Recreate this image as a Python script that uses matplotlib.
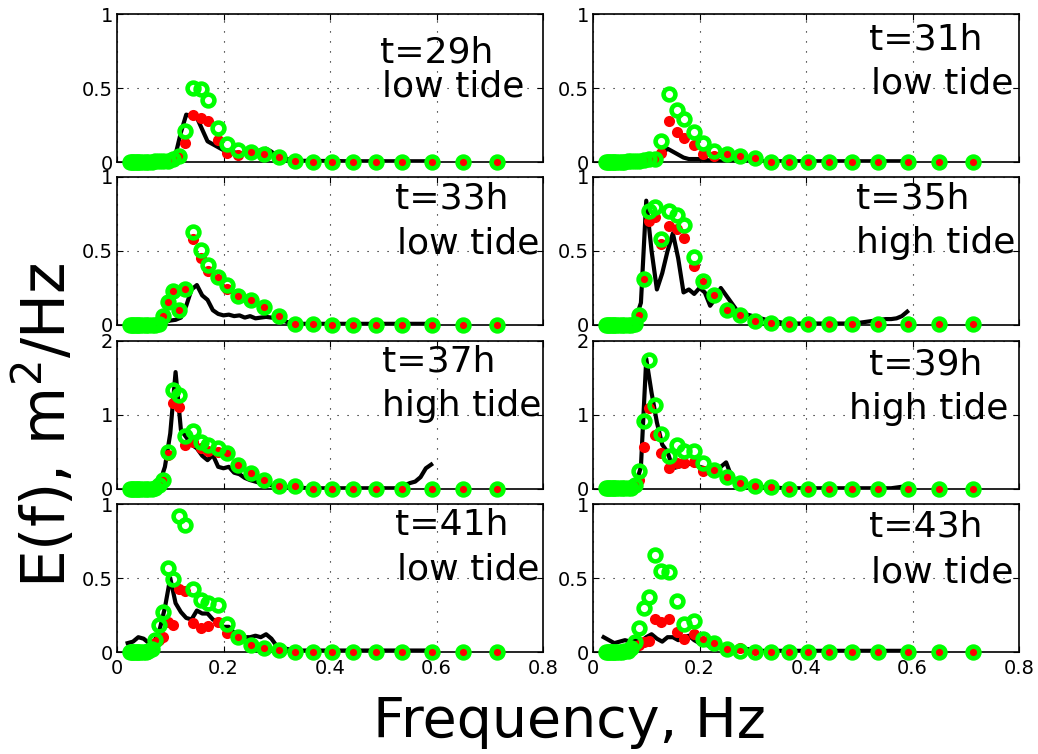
import numpy as np
import matplotlib
matplotlib.use("Agg")
import matplotlib.pyplot as plt

# measured spectra (black line), frequency in Hz
f_obs = [0.02, 0.03, 0.04, 0.05, 0.06, 0.07, 0.08, 0.09, 0.10, 0.11,
         0.12, 0.13, 0.14, 0.15, 0.16, 0.17, 0.18, 0.19, 0.20, 0.21,
         0.22, 0.23, 0.24, 0.25, 0.26, 0.27, 0.28, 0.29, 0.30, 0.31,
         0.32, 0.33, 0.34, 0.35, 0.36, 0.37, 0.38, 0.39, 0.40, 0.41,
         0.42, 0.43, 0.44, 0.45, 0.46, 0.47, 0.48, 0.49, 0.50, 0.51,
         0.52, 0.53, 0.54, 0.55, 0.56, 0.57, 0.58, 0.59]

# model frequencies (red dots / green rings)
f_mod = [0.025, 0.0275, 0.030, 0.033, 0.037, 0.040, 0.044, 0.049, 0.054, 0.059,
         0.065, 0.071, 0.078, 0.087, 0.095, 0.105, 0.116, 0.128, 0.142, 0.157,
         0.171, 0.189, 0.207, 0.228, 0.251, 0.276, 0.304, 0.334, 0.368, 0.404,
         0.444, 0.486, 0.536, 0.591, 0.650, 0.714]

times = ["t=29h", "t=31h", "t=33h", "t=35h", "t=37h", "t=39h", "t=41h", "t=43h"]
tides = ["low tide", "low tide", "low tide", "high tide",
         "high tide", "high tide", "low tide", "low tide"]
ymax = [1, 1, 1, 1, 2, 2, 1, 1]

obs_29 = [0.01, 0.01, 0.01, 0.01, 0.01, 0.01, 0.01, 0.01, 0.015, 0.05,
          0.2, 0.32, 0.31, 0.3, 0.22, 0.14, 0.12, 0.1, 0.08, 0.07,
          0.065, 0.06, 0.06, 0.065, 0.07, 0.08, 0.09, 0.07, 0.04, 0.03,
          0.02, 0.015, 0.01, 0.008, 0.008, 0.008, 0.007, 0.007, 0.006, 0.006,
          0.006, 0.005, 0.005, 0.005, 0.005, 0.005, 0.005, 0.005, 0.005, 0.005,
          0.005, 0.005, 0.005, 0.005, 0.005, 0.005, 0.005, 0.005]
obs_31 = [0.01, 0.01, 0.01, 0.01, 0.01, 0.01, 0.01, 0.01, 0.01, 0.01,
          0.03, 0.06, 0.09, 0.07, 0.05, 0.03, 0.02, 0.02, 0.02, 0.015,
          0.01, 0.005, 0.005, 0.005, 0.005, 0.005, 0.005, 0.005, 0.005, 0.005,
          0.005, 0.005, 0.005, 0.005, 0.005, 0.005, 0.005, 0.005, 0.005, 0.005,
          0.005, 0.005, 0.005, 0.005, 0.005, 0.005, 0.005, 0.005, 0.005, 0.005,
          0.005, 0.005, 0.005, 0.005, 0.005, 0.005, 0.005, 0.005]
obs_33 = [0.01, 0.01, 0.01, 0.01, 0.01, 0.01, 0.01, 0.02, 0.03, 0.035,
          0.05, 0.13, 0.24, 0.27, 0.2, 0.17, 0.1, 0.075, 0.065, 0.07,
          0.06, 0.065, 0.05, 0.06, 0.045, 0.05, 0.055, 0.05, 0.05, 0.03,
          0.02, 0.015, 0.01, 0.008, 0.008, 0.008, 0.008, 0.008, 0.008, 0.008,
          0.008, 0.008, 0.008, 0.008, 0.008, 0.008, 0.008, 0.008, 0.008, 0.008,
          0.008, 0.008, 0.008, 0.008, 0.008, 0.008, 0.008, 0.008]
obs_35 = [0.02, 0.02, 0.02, 0.02, 0.02, 0.02, 0.04, 0.15, 0.84, 0.5,
          0.24, 0.35, 0.5, 0.62, 0.45, 0.22, 0.24, 0.21, 0.25, 0.22,
          0.13, 0.18, 0.25, 0.2, 0.15, 0.1, 0.08, 0.07, 0.06, 0.05,
          0.04, 0.03, 0.025, 0.02, 0.01, 0.01, 0.01, 0.01, 0.01, 0.01,
          0.01, 0.01, 0.01, 0.01, 0.01, 0.01, 0.01, 0.01, 0.015, 0.02,
          0.025, 0.03, 0.035, 0.04, 0.04, 0.045, 0.06, 0.09]
obs_37 = [0.02, 0.02, 0.02, 0.02, 0.02, 0.02, 0.08, 0.3, 0.75, 1.58,
          0.8, 0.7, 0.6, 0.55, 0.45, 0.39, 0.46, 0.3, 0.28, 0.3,
          0.22, 0.2, 0.15, 0.12, 0.1, 0.08, 0.06, 0.05, 0.04, 0.03,
          0.025, 0.02, 0.02, 0.015, 0.01, 0.01, 0.01, 0.01, 0.01, 0.01,
          0.01, 0.01, 0.01, 0.01, 0.01, 0.01, 0.01, 0.01, 0.01, 0.01,
          0.01, 0.01, 0.05, 0.08, 0.1, 0.16, 0.28, 0.33]
obs_39 = [0.03, 0.03, 0.03, 0.03, 0.03, 0.03, 0.05, 0.3, 1.76, 1.3,
          0.9, 0.6, 0.5, 0.28, 0.3, 0.32, 0.34, 0.34, 0.3, 0.28,
          0.25, 0.22, 0.3, 0.36, 0.17, 0.1, 0.08, 0.06, 0.04, 0.03,
          0.025, 0.02, 0.02, 0.015, 0.01, 0.01, 0.01, 0.01, 0.01, 0.01,
          0.01, 0.01, 0.01, 0.01, 0.01, 0.01, 0.01, 0.01, 0.01, 0.01,
          0.01, 0.01, 0.01, 0.01, 0.01, 0.02, 0.03, 0.035]
obs_41 = [0.06, 0.07, 0.1, 0.09, 0.06, 0.07, 0.15, 0.3, 0.5, 0.33,
          0.27, 0.23, 0.22, 0.28, 0.26, 0.26, 0.22, 0.2, 0.17, 0.17,
          0.13, 0.1, 0.1, 0.1, 0.11, 0.1, 0.12, 0.09, 0.04, 0.03,
          0.02, 0.015, 0.01, 0.01, 0.01, 0.01, 0.01, 0.01, 0.01, 0.01,
          0.01, 0.01, 0.01, 0.01, 0.01, 0.01, 0.01, 0.01, 0.01, 0.01,
          0.01, 0.01, 0.01, 0.01, 0.01, 0.01, 0.01, 0.01]
obs_43 = [0.1, 0.08, 0.06, 0.07, 0.08, 0.07, 0.08, 0.07, 0.1, 0.12,
          0.09, 0.07, 0.1, 0.1, 0.08, 0.1, 0.11, 0.08, 0.06, 0.05,
          0.04, 0.04, 0.03, 0.03, 0.025, 0.02, 0.02, 0.02, 0.015, 0.008,
          0.008, 0.008, 0.008, 0.008, 0.008, 0.008, 0.008, 0.008, 0.008, 0.008,
          0.008, 0.008, 0.008, 0.008, 0.008, 0.008, 0.008, 0.008, 0.008, 0.008,
          0.008, 0.008, 0.008, 0.008, 0.008, 0.008, 0.008, 0.008]

# model 1 (red filled dots)
red_29 = [0, 0, 0, 0, 0, 0, 0, 0, 0, 0, 0, 0, 0, 0, 0.005, 0.01, 0.04, 0.13,
          0.32, 0.30, 0.28, 0.15, 0.06, 0.045, 0.06, 0.055, 0.03, 0.005,
          0.005, 0.005, 0.005, 0.005, 0.005, 0.005, 0.005, 0.005]
red_31 = [0, 0, 0, 0, 0, 0, 0, 0, 0, 0, 0.005, 0.005, 0.01, 0.01, 0.015, 0.02, 0.03, 0.06,
          0.28, 0.2, 0.16, 0.116, 0.056, 0.04, 0.045, 0.038, 0.027, 0.004,
          0.004, 0.004, 0.004, 0.004, 0.004, 0.004, 0.004, 0.004]
red_33 = [0.003, 0.003, 0.003, 0.003, 0.003, 0.003, 0.003, 0.003, 0.003, 0.003,
          0.003, 0.003, 0.01, 0.06, 0.154, 0.233, 0.104, 0.244,
          0.58, 0.455, 0.365, 0.31, 0.24, 0.19, 0.172, 0.122, 0.059, 0.005,
          0.01, 0.003, 0.003, 0.003, 0.003, 0.003, 0.003, 0.003]
red_35 = [0.003, 0.003, 0.003, 0.003, 0.003, 0.003, 0.003, 0.003, 0.003, 0.003,
          0.003, 0.003, 0.005, 0.06, 0.31, 0.70, 0.73, 0.545,
          0.67, 0.65, 0.59, 0.40, 0.285, 0.2, 0.10, 0.066, 0.03, 0.014,
          0.004, 0.004, 0.004, 0.004, 0.004, 0.004, 0.004, 0.004]
red_37 = [0.005, 0.005, 0.005, 0.005, 0.005, 0.005, 0.005, 0.005, 0.005, 0.005,
          0.005, 0.01, 0.04, 0.11, 0.46, 1.16, 1.11, 0.60,
          0.64, 0.55, 0.51, 0.50, 0.47, 0.33, 0.215, 0.125, 0.036, 0.036,
          0.005, 0.005, 0.005, 0.005, 0.005, 0.005, 0.005, 0.005]
red_39 = [0.01, 0.01, 0.01, 0.01, 0.01, 0.01, 0.01, 0.01, 0.01, 0.01,
          0.01, 0.02, 0.05, 0.12, 0.57, 1.1, 0.73, 0.48,
          0.28, 0.35, 0.35, 0.37, 0.25, 0.26, 0.16, 0.08, 0.036, 0.02,
          0.005, 0.005, 0.005, 0.005, 0.005, 0.005, 0.005, 0.005]
red_41 = [0.003, 0.003, 0.003, 0.003, 0.003, 0.003, 0.003, 0.003, 0.003, 0.01,
          0.02, 0.06, 0.08, 0.1, 0.2, 0.18, 0.425, 0.41,
          0.195, 0.165, 0.175, 0.2, 0.13, 0.1, 0.05, 0.035, 0.018, 0.003,
          0.003, 0.003, 0.003, 0.003, 0.003, 0.003, 0.003, 0.003]
red_43 = [0.003, 0.003, 0.003, 0.003, 0.003, 0.003, 0.003, 0.003, 0.003, 0.005,
          0.01, 0.02, 0.04, 0.05, 0.07, 0.075, 0.226, 0.2,
          0.22, 0.136, 0.086, 0.12, 0.075, 0.063, 0.03, 0.025, 0.014, 0.003,
          0.003, 0.003, 0.003, 0.003, 0.003, 0.003, 0.003, 0.003]

# model 2 (green open rings)
grn_29 = [0, 0, 0, 0, 0, 0, 0, 0, 0, 0, 0, 0.005, 0.005, 0.005, 0.01, 0.02, 0.04, 0.21,
          0.50, 0.49, 0.42, 0.23, 0.12, 0.08, 0.07, 0.056, 0.034, 0.005,
          0.003, 0.003, 0.003, 0.003, 0.003, 0.003, 0.003, 0.003]
grn_31 = [0, 0, 0, 0, 0, 0, 0, 0, 0, 0, 0.005, 0.005, 0.01, 0.01, 0.015, 0.02, 0.02, 0.14,
          0.46, 0.35, 0.29, 0.205, 0.127, 0.071, 0.056, 0.04, 0.03, 0.003,
          0.003, 0.003, 0.003, 0.003, 0.003, 0.003, 0.003, 0.003]
grn_33 = [0.003, 0.003, 0.003, 0.003, 0.003, 0.003, 0.003, 0.003, 0.003, 0.003,
          0.003, 0.003, 0.01, 0.06, 0.154, 0.233, 0.104, 0.244,
          0.629, 0.505, 0.403, 0.326, 0.267, 0.199, 0.172, 0.122, 0.059, 0.005,
          0.01, 0.003, 0.003, 0.003, 0.003, 0.003, 0.003, 0.003]
grn_35 = [0.003, 0.003, 0.003, 0.003, 0.003, 0.003, 0.003, 0.003, 0.003, 0.003,
          0.003, 0.003, 0.005, 0.066, 0.31, 0.77, 0.80, 0.58,
          0.767, 0.744, 0.676, 0.462, 0.30, 0.206, 0.104, 0.066, 0.03, 0.014,
          0.004, 0.004, 0.004, 0.004, 0.004, 0.004, 0.004, 0.004]
grn_37 = [0.005, 0.005, 0.005, 0.005, 0.005, 0.005, 0.005, 0.005, 0.005, 0.005,
          0.005, 0.01, 0.05, 0.12, 0.50, 1.34, 1.27, 0.71,
          0.78, 0.64, 0.60, 0.55, 0.48, 0.33, 0.215, 0.125, 0.036, 0.036,
          0.005, 0.005, 0.005, 0.005, 0.005, 0.005, 0.005, 0.005]
grn_39 = [0.01, 0.01, 0.01, 0.01, 0.01, 0.01, 0.01, 0.01, 0.01, 0.01,
          0.01, 0.02, 0.06, 0.24, 0.92, 1.74, 1.13, 0.74,
          0.44, 0.6, 0.51, 0.52, 0.35, 0.26, 0.157, 0.08, 0.036, 0.022,
          0.005, 0.005, 0.005, 0.005, 0.005, 0.005, 0.005, 0.005]
grn_41 = [0.003, 0.003, 0.003, 0.003, 0.003, 0.003, 0.003, 0.003, 0.003, 0.01,
          0.02, 0.08, 0.18, 0.27, 0.57, 0.49, 0.92, 0.86,
          0.425, 0.35, 0.33, 0.32, 0.19, 0.10, 0.045, 0.03, 0.014, 0.003,
          0.003, 0.003, 0.003, 0.003, 0.003, 0.003, 0.003, 0.003]
grn_43 = [0.003, 0.003, 0.003, 0.003, 0.003, 0.003, 0.003, 0.003, 0.003, 0.005,
          0.01, 0.03, 0.07, 0.165, 0.30, 0.37, 0.655, 0.55,
          0.54, 0.346, 0.19, 0.21, 0.086, 0.06, 0.022, 0.007, 0.003, 0.003,
          0.003, 0.003, 0.003, 0.003, 0.003, 0.003, 0.003, 0.003]

obs_all = [obs_29, obs_31, obs_33, obs_35, obs_37, obs_39, obs_41, obs_43]
red_all = [red_29, red_31, red_33, red_35, red_37, red_39, red_41, red_43]
grn_all = [grn_29, grn_31, grn_33, grn_35, grn_37, grn_39, grn_41, grn_43]

# label positions in axes fraction: (x, y) of the "t=" line and of the tide line
label_pos = [((0.617, 0.67), (0.622, 0.44)),
             ((0.649, 0.76), (0.653, 0.466)),
             ((0.653, 0.784), (0.657, 0.486)),
             ((0.618, 0.79), (0.618, 0.486)),
             ((0.622, 0.797), (0.622, 0.493)),
             ((0.649, 0.777), (0.602, 0.473)),
             ((0.653, 0.79), (0.657, 0.49)),
             ((0.649, 0.78), (0.653, 0.47))]

W, H = 1038, 754
fig = plt.figure(figsize=(W / 100, H / 100), dpi=100)

col_x = [117, 593]
col_w = 426
row_top = [14, 177, 341, 504]
row_h = 148

for k in range(8):
    r, c = k // 2, k % 2
    ax = fig.add_axes([col_x[c] / W, 1 - (row_top[r] + row_h) / H, col_w / W, row_h / H])
    ax.plot(f_obs, obs_all[k], color='black', lw=3, zorder=2)
    ax.plot(f_mod, red_all[k], 'o', color='red', ms=8, mec='red', mew=0,
            zorder=3, clip_on=False)
    ax.plot(f_mod, grn_all[k], 'o', mfc='none', mec='#00ff00', ms=8.5, mew=3.3,
            zorder=4, clip_on=False)
    ax.set_xlim(0, 0.8)
    ax.set_ylim(0, ymax[k])
    ax.set_xticks([0, 0.2, 0.4, 0.6, 0.8])
    if ymax[k] == 2:
        ax.set_yticks([0, 1, 2])
        ax.set_yticklabels(['0', '1', '2'])
    else:
        ax.set_yticks([0, 0.5, 1])
        ax.set_yticklabels(['0', '0.5', '1'])
    if r == 3:
        ax.set_xticklabels(['0', '0.2', '0.4', '0.6', '0.8'])
    else:
        ax.set_xticklabels([])
    ax.tick_params(direction='in', length=4, width=0.8, top=True, right=True,
                   labelsize=14, pad=3)
    ax.tick_params(axis='x', pad=5)
    ax.grid(True, color='black', lw=0.8, linestyle=(0, (1, 8)))
    for sp in ax.spines.values():
        sp.set_linewidth(1.2)
    (x1, y1), (x2, y2) = label_pos[k]
    ax.text(x1, y1, times[k], transform=ax.transAxes, fontsize=26, ha='left', va='baseline')
    ax.text(x2, y2, tides[k], transform=ax.transAxes, fontsize=26, ha='left', va='baseline')

fig.text(569 / W, 1 - 737 / H, 'Frequency, Hz', fontsize=40, ha='center', va='baseline')
fig.text(12 / W, 1 - 425 / H, 'E(f), m$^2$/Hz', fontsize=43, rotation=90,
         ha='left', va='center')

fig.savefig('out.png', dpi=100)
